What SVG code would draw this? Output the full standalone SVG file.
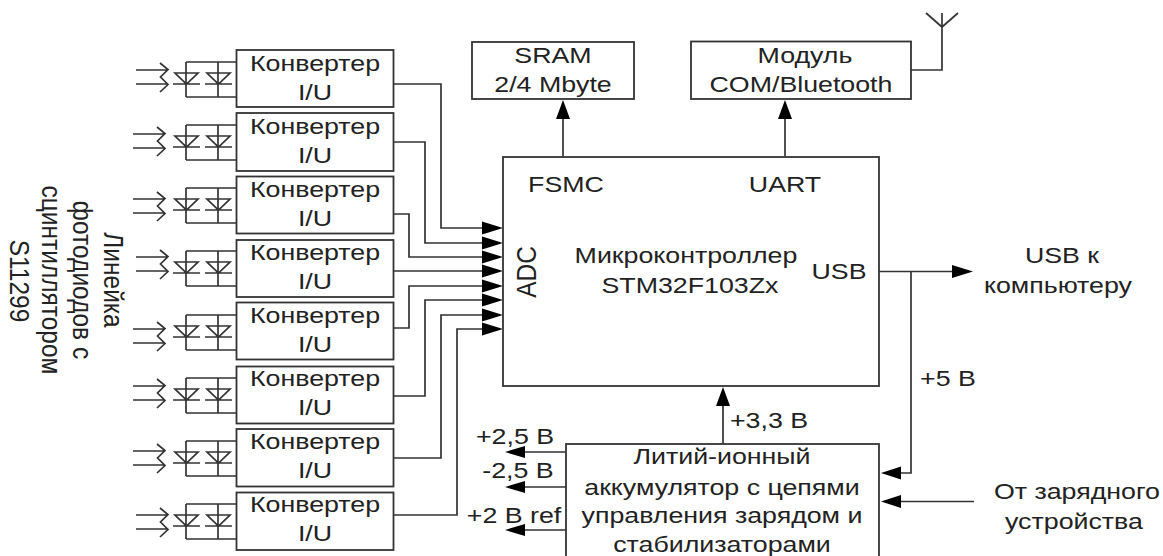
<svg xmlns="http://www.w3.org/2000/svg" width="1163" height="556" viewBox="0 0 1163 556">
<style>
text{font-family:"Liberation Sans",Arial,sans-serif;font-size:22.300px;fill:#222;text-anchor:middle;transform-box:fill-box;transform-origin:center;transform:scaleX(1.2)}
text.r{font-size:24.500px;transform:none}
.b{fill:#fff;stroke:#333;stroke-width:1.8}
.w{fill:none;stroke:#333;stroke-width:1.7}
.a{fill:#000;stroke:none}
</style>
<defs>
<path id="pd" class="w" d="M186 62H236M186 97H236M186 62V97M218 62V97M173 84H200M205 84H232M175 73H198L186.500 84ZM207 73H230L218.500 84Z"/>
<path id="lt" class="w" d="M136 70H167M136 84H167M160 63L168 69.500L160.500 77L168 84.500L160 92"/>
<path id="ah" class="a" d="M0 0L-21 -6.500V6.500Z"/>
</defs>
<g id="connectors">
<path class="w" d="M393 84H441V228H490M393 142H425V243H490M393 214H409V257H490M393 271H490M393 328H409V286H490M393 396H425V300H490M393 458H441V315H490M393 515H457V329H490"/>
<path class="w" d="M563 156V110M785 156V110M911 70H942V13M926 13L942 27L958 13"/>
<path class="w" d="M879 271.500H960M911 271.500V473H892M974 501.500H892M723 444V400M566 452H520M566 487H520M566 530H520"/>
<use href="#ah" x="503" y="228"/><use href="#ah" x="503" y="243"/><use href="#ah" x="503" y="257"/><use href="#ah" x="503" y="271"/><use href="#ah" x="503" y="286"/><use href="#ah" x="503" y="300"/><use href="#ah" x="503" y="315"/><use href="#ah" x="503" y="329"/>
<path class="a" d="M563 100L556 119H570ZM785 100L778 119H792ZM723 387L716 406H730ZM973 271.500L952 265V278ZM881 473L901 466.500V479.500ZM881 501.500L901 495V508ZM505 452L525 446V458ZM505 487L525 481V493ZM505 530L525 524V536Z"/>
</g>
<g id="photodiodes">
<use href="#pd"/><use href="#pd" y="63"/><use href="#pd" y="126"/><use href="#pd" y="189"/><use href="#pd" y="253"/><use href="#pd" y="316"/><use href="#pd" y="379"/><use href="#pd" y="442"/>
<use href="#lt"/><use href="#lt" x="-3" y="64"/><use href="#lt" x="-3" y="129"/><use href="#lt" y="187"/><use href="#lt" x="-3" y="259"/><use href="#lt" x="-3" y="316"/><use href="#lt" x="-3" y="381"/><use href="#lt" y="445"/>
</g>
<g id="conv1"><rect class="b" x="236.500" y="50" width="157" height="57"/><text x="315" y="71">Конвертер</text><text x="315" y="100">I/U</text></g>
<g id="conv2"><rect class="b" x="236.500" y="113" width="157" height="58"/><text x="315" y="134">Конвертер</text><text x="315" y="163">I/U</text></g>
<g id="conv3"><rect class="b" x="236.500" y="176.500" width="157" height="57"/><text x="315" y="197">Конвертер</text><text x="315" y="226">I/U</text></g>
<g id="conv4"><rect class="b" x="236.500" y="240" width="157" height="57"/><text x="315" y="260">Конвертер</text><text x="315" y="289">I/U</text></g>
<g id="conv5"><rect class="b" x="236.500" y="302.500" width="157" height="57"/><text x="315" y="323">Конвертер</text><text x="315" y="352">I/U</text></g>
<g id="conv6"><rect class="b" x="236.500" y="366.500" width="157" height="57"/><text x="315" y="386">Конвертер</text><text x="315" y="415">I/U</text></g>
<g id="conv7"><rect class="b" x="236.500" y="429" width="157" height="57.500"/><text x="315" y="449">Конвертер</text><text x="315" y="478">I/U</text></g>
<g id="conv8"><rect class="b" x="236.500" y="492.500" width="157" height="57.500"/><text x="315" y="512">Конвертер</text><text x="315" y="541">I/U</text></g>
<g id="sram"><rect class="b" x="472" y="42" width="162" height="57"/><text x="553" y="63">SRAM</text><text x="553" y="92">2/4 Mbyte</text></g>
<g id="bt"><rect class="b" x="691" y="41.500" width="220" height="57.500"/><text x="805" y="63">Модуль</text><text x="801" y="92">COM/Bluetooth</text></g>
<g id="mcu"><rect class="b" x="503" y="157" width="376" height="229"/>
<text x="566" y="192">FSMC</text><text x="785" y="192">UART</text>
<text x="686" y="263">Микроконтроллер</text><text x="690" y="293">STM32F103Zx</text>
<text x="839" y="279">USB</text>
<g transform="translate(536 272) rotate(-90) scale(1 1.1)"><text class="r">ADC</text></g></g>
<g id="battery"><rect class="b" x="566" y="444" width="313" height="115"/>
<text x="722" y="464">Литий-ионный</text><text x="722" y="495">аккумулятор с цепями</text><text x="722" y="523">управления зарядом и</text><text x="722" y="552">стабилизаторами</text></g>
<g id="labels">
<text x="515" y="444">+2,5 В</text><text x="518" y="478">-2,5 В</text><text x="514" y="523">+2 В ref</text>
<text x="769" y="428">+3,3 В</text><text x="948" y="386">+5 В</text>
<text x="1062" y="263">USB к</text><text x="1058" y="293">компьютеру</text>
<text x="1077" y="499">От зарядного</text><text x="1074" y="529">устройства</text>
<g transform="translate(104 280) rotate(90) scale(1 1.1)"><text class="r">Линейка</text></g>
<g transform="translate(73 280) rotate(90) scale(1 1.1)"><text class="r">фотодиодов с</text></g>
<g transform="translate(42 280) rotate(90) scale(1 1.1)"><text class="r">сцинтиллятором</text></g>
<g transform="translate(10 281) rotate(90) scale(1 1.1)"><text class="r">S11299</text></g>
</g>
</svg>
